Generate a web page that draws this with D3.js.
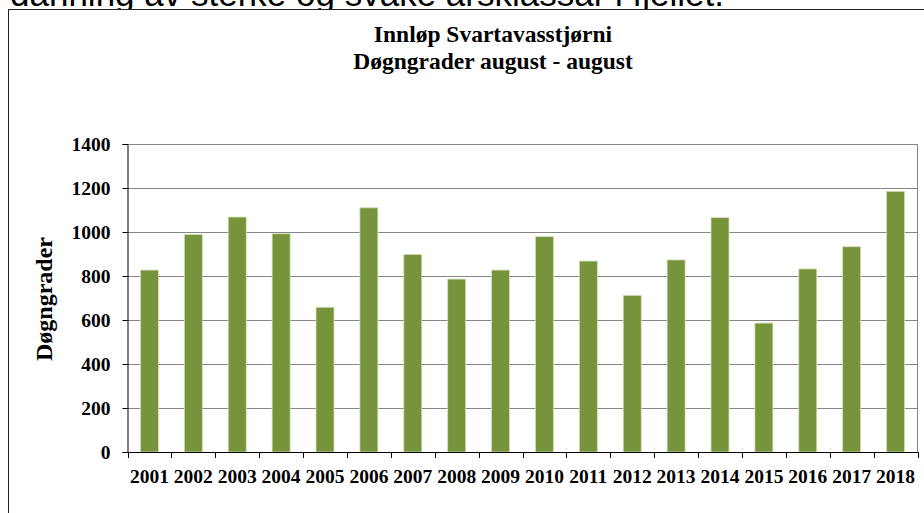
<!DOCTYPE html>
<html><head><meta charset="utf-8">
<script src="https://cdn.jsdelivr.net/npm/d3@7"></script>
<style>html,body{margin:0;padding:0;background:#fff;overflow:hidden}</style>
</head><body>
<svg id="c" width="924" height="513"></svg>
<script>
const years = ["2001","2002","2003","2004","2005","2006","2007","2008","2009","2010","2011","2012","2013","2014","2015","2016","2017","2018"];
const values = [827, 989, 1068, 992, 658, 1110, 898, 786, 827, 979, 868, 712, 873, 1065, 586, 832, 933, 1185];
const yTicks = [0, 200, 400, 600, 800, 1000, 1200, 1400];
const titleLines = ["Innløp Svartavasstjørni", "Døgngrader august - august"];
const yTitle = "Døgngrader";
const caption = "danning av sterke og svake årsklassar i fjellet.";

const svg = d3.select("#c");
const serif = "'Liberation Serif','Times New Roman',serif";
const L = 127.5, R = 917.5, T = 144, B = 452;

svg.append("text").attr("x", 10).attr("y", 6)
  .attr("font-family", "'Liberation Sans',Arial,sans-serif").attr("font-size", 35)
  .attr("fill", "#000").text(caption);

svg.append("rect").attr("x", 8.5).attr("y", 9.5).attr("width", 940).attr("height", 600)
  .attr("fill", "#fff").attr("stroke", "#222").attr("stroke-width", 1);

svg.selectAll("text.title").data(titleLines).join("text").attr("class", "title")
  .attr("x", 493).attr("y", (d, i) => 42 + i * 27)
  .attr("text-anchor", "middle").attr("font-family", serif).attr("font-weight", "bold")
  .attr("font-size", 23.5).text(d => d);

const x = d3.scaleBand().domain(years).range([L, R]).padding(0);
const y = d3.scaleLinear().domain([0, 1400]).range([B, T]);

// gridlines
svg.append("g").selectAll("line").data(yTicks.filter(t => t > 0)).join("line")
  .attr("x1", L).attr("x2", R).attr("y1", d => Math.round(y(d)) + 0.5).attr("y2", d => Math.round(y(d)) + 0.5)
  .attr("stroke", "#868686").attr("stroke-width", 1);
// right border
svg.append("line").attr("x1", R).attr("x2", R).attr("y1", T + 0.5).attr("y2", B)
  .attr("stroke", "#868686");

// bars
const bw = x.step() * 0.41;
svg.append("g").selectAll("rect").data(values).join("rect")
  .attr("x", (d, i) => x(years[i]) + (x.step() - bw) / 2)
  .attr("y", d => y(d)).attr("width", bw).attr("height", d => B - y(d))
  .attr("fill", "#77933c").attr("stroke", "#d3e0b8").attr("stroke-width", 0.8);

// y axis
const yAxis = svg.append("g").attr("transform", `translate(${L},0)`)
  .call(d3.axisLeft(y).tickValues(yTicks).tickSize(5).tickPadding(12).tickFormat(d3.format("d")));
yAxis.select(".domain").attr("stroke", "#000");
yAxis.selectAll(".tick line").attr("stroke", "#000");
yAxis.selectAll("text").attr("font-family", serif).attr("font-weight", "bold").attr("font-size", 19.5).attr("fill", "#000");

// x axis
const xAxis = svg.append("g").attr("transform", `translate(0,${B})`)
  .call(d3.axisBottom(x).tickSize(0).tickPadding(17));
xAxis.select(".domain").attr("stroke", "#000");
xAxis.selectAll("text").attr("font-family", serif).attr("font-weight", "bold").attr("font-size", 19.5).attr("fill", "#000");
// boundary ticks
const bounds = years.map(d => x(d)).concat([R]);
svg.append("g").selectAll("line").data(bounds).join("line")
  .attr("x1", d => Math.round(d) + 0.5).attr("x2", d => Math.round(d) + 0.5)
  .attr("y1", B).attr("y2", B + 6).attr("stroke", "#000");

svg.append("text").attr("transform", "translate(52,299) rotate(-90)")
  .attr("text-anchor", "middle").attr("font-family", serif).attr("font-weight", "bold")
  .attr("font-size", 24).text(yTitle);
</script>
</body></html>
